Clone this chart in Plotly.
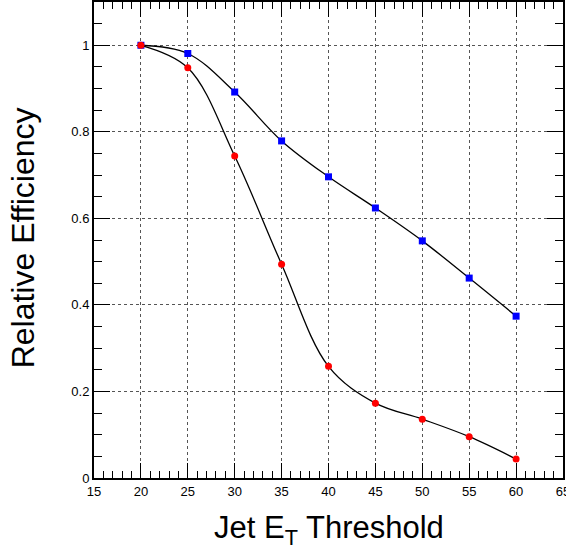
import plotly.graph_objects as go

thresholds = [20, 25, 30, 35, 40, 45, 50, 55, 60]
eff_blue = [1.0, 0.981, 0.892, 0.779, 0.696, 0.624, 0.548, 0.462, 0.374]
eff_red = [1.0, 0.948, 0.744, 0.494, 0.258, 0.173, 0.136, 0.0955, 0.044]
x_ticks = [15, 20, 25, 30, 35, 40, 45, 50, 55, 60, 65]
y_ticks = [0, 0.2, 0.4, 0.6, 0.8, 1]
y_tick_labels = ["0", "0.2", "0.4", "0.6", "0.8", "1"]

FONT = "Liberation Sans, Arial, Helvetica, sans-serif"
XR = [15, 65]
YR = [0, 1.1]

fig = go.Figure()
fig.add_trace(go.Scatter(
    x=thresholds, y=eff_blue, mode="lines+markers",
    line=dict(color="black", width=1.3, shape="spline", smoothing=1),
    marker=dict(symbol="square", size=7, color="#0000ff"),
    showlegend=False))
fig.add_trace(go.Scatter(
    x=thresholds, y=eff_red, mode="lines+markers",
    line=dict(color="black", width=1.3, shape="spline", smoothing=1),
    marker=dict(symbol="circle", size=7, color="#ff0000"),
    showlegend=False))
# invisible trace for mirrored axes
fig.add_trace(go.Scatter(x=[XR[0]], y=[YR[0]], xaxis="x2", yaxis="y2",
                         mode="markers", marker=dict(opacity=0), showlegend=False,
                         hoverinfo="skip"))

common_font = dict(family=FONT, size=13, color="black")

fig.update_layout(
    width=566, height=550,
    margin=dict(l=94, r=3, t=2, b=72, autoexpand=False),
    plot_bgcolor="white", paper_bgcolor="white",
    font=common_font,
    xaxis=dict(range=XR, tickvals=x_ticks, ticktext=[str(v) for v in x_ticks],
               ticks="inside", ticklen=15, tickwidth=1.2, tickcolor="black",
               ticklabeloverflow="allow", automargin=False,
               showline=True, linecolor="black", linewidth=2,
               showgrid=True, gridcolor="#555", griddash="dot", gridwidth=1,
               zeroline=False, tickfont=common_font,
               minor=dict(dtick=1, tick0=15, ticks="inside", ticklen=7,
                          tickcolor="black", tickwidth=1, showgrid=False)),
    yaxis=dict(range=YR, tickvals=y_ticks, ticktext=y_tick_labels,
               ticks="inside", ticklen=16, tickwidth=1.2, tickcolor="black",
               automargin=False,
               showline=True, linecolor="black", linewidth=2,
               showgrid=True, gridcolor="#555", griddash="dot", gridwidth=1,
               zeroline=False, tickfont=common_font,
               minor=dict(dtick=0.05, tick0=0, ticks="inside", ticklen=8,
                          tickcolor="black", tickwidth=1, showgrid=False)),
    xaxis2=dict(range=XR, overlaying="x", side="top", anchor="y2",
                tickvals=x_ticks, showticklabels=False, automargin=False,
                ticks="inside", ticklen=15, tickwidth=1.2, tickcolor="black",
                showline=True, linecolor="black", linewidth=2,
                showgrid=False, zeroline=False,
                minor=dict(dtick=1, tick0=15, ticks="inside", ticklen=7,
                           tickcolor="black", tickwidth=1, showgrid=False)),
    yaxis2=dict(range=YR, overlaying="y", side="right", anchor="x2",
                tickvals=y_ticks, showticklabels=False, automargin=False,
                ticks="inside", ticklen=16, tickwidth=1.2, tickcolor="black",
                showline=True, linecolor="black", linewidth=2,
                showgrid=False, zeroline=False,
                minor=dict(dtick=0.05, tick0=0, ticks="inside", ticklen=8,
                           tickcolor="black", tickwidth=1, showgrid=False)),
    annotations=[
        dict(text="Jet E<sub>T</sub> Threshold", xref="paper", yref="paper",
             x=0.5, y=-0.064, xanchor="center", yanchor="top", showarrow=False,
             font=dict(family=FONT, size=31, color="black")),
        dict(text="Relative Efficiency", xref="paper", yref="paper",
             x=-0.152, y=0.505, xanchor="center", yanchor="middle", textangle=-90,
             showarrow=False, font=dict(family=FONT, size=32, color="black")),
    ],
)

fig.write_html("out.html", config={"displayModeBar": False},
               post_script="document.body.style.margin='0';document.body.style.overflow='hidden';")
